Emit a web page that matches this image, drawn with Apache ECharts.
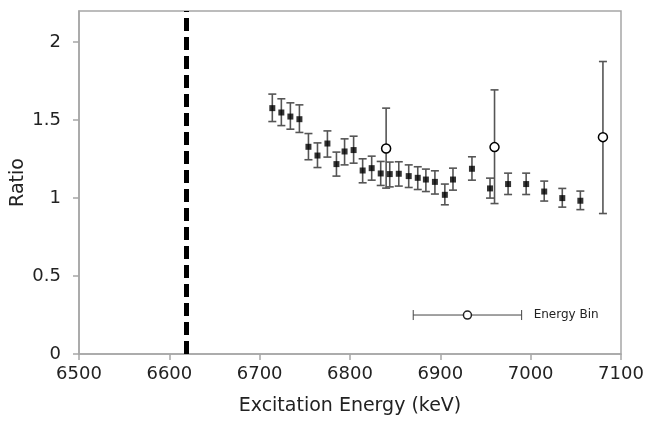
<!DOCTYPE html>
<html>
<head>
<meta charset="utf-8">
<script src="https://cdn.jsdelivr.net/npm/echarts@6/dist/echarts.min.js"></script>
<style>
html,body{margin:0;padding:0;background:#fff;}
#chart{width:649px;height:425px;}
</style>
</head>
<body>
<div id="chart"></div>
<script>
// Filled points (ratio with error bars)
const energy = [6714,6724,6734,6744,6754,6764,6775,6785,6794,6804,6814,6824,6834,6844,6854,6865,6875,6884,6894,6905,6914,6935,6955,6975,6995,7015,7035,7055];
const ratio = [1.577,1.549,1.523,1.506,1.329,1.273,1.350,1.218,1.299,1.308,1.177,1.192,1.158,1.154,1.156,1.141,1.130,1.119,1.104,1.021,1.119,1.188,1.062,1.090,1.090,1.042,1.000,0.983];
const ratioHigh = [1.667,1.637,1.611,1.598,1.414,1.354,1.431,1.295,1.380,1.397,1.252,1.269,1.235,1.231,1.233,1.213,1.201,1.186,1.175,1.090,1.192,1.265,1.128,1.160,1.160,1.109,1.062,1.045];
const ratioLow = [1.491,1.465,1.442,1.421,1.246,1.196,1.263,1.141,1.213,1.224,1.098,1.115,1.081,1.072,1.077,1.068,1.055,1.042,1.026,0.957,1.051,1.115,1.000,1.023,1.023,0.981,0.942,0.926];
// Open circles
const openEnergy = [6840,6960,7080];
const openRatio = [1.318,1.327,1.391];
const openHigh = [1.577,1.694,1.876];
const openLow = [1.064,0.965,0.901];
// Threshold line
const thresholdEnergy = [6618.5];
// Energy bin legend marker
const binCenter = [6930];
const binLow = [6870];
const binHigh = [6990];
const binY = [0.25];
const binLabel = ['Energy Bin'];
// Axis ticks
const yTicks = [0,0.5,1,1.5,2];
const xMin = 6500, xMax = 7100, xStep = 100;
const yMin = 0, yMax = 2.2;

const chart = echarts.init(document.getElementById('chart'));
const FONT = 'DejaVu Sans';

function errorBarRender(color, width, cap) {
  return function (params, api) {
    const x = api.value(0);
    const lo = api.coord([x, api.value(1)]);
    const hi = api.coord([x, api.value(2)]);
    const st = {stroke: color, lineWidth: width};
    return {
      type: 'group',
      children: [
        {type: 'line', shape: {x1: lo[0], y1: lo[1], x2: hi[0], y2: hi[1]}, style: st},
        {type: 'line', shape: {x1: lo[0]-cap, y1: lo[1], x2: lo[0]+cap, y2: lo[1]}, style: st},
        {type: 'line', shape: {x1: hi[0]-cap, y1: hi[1], x2: hi[0]+cap, y2: hi[1]}, style: st}
      ]
    };
  };
}

const option = {
  animation: false,
  backgroundColor: '#fff',
  grid: {left: 79, right: 28, top: 11, bottom: 71, show: true, borderColor: '#a6a6a6', borderWidth: 1.5, containLabel: false, outerBoundsMode: 'none'},
  xAxis: {
    type: 'value', min: xMin, max: xMax, interval: xStep,
    name: 'Excitation Energy (keV)', nameLocation: 'middle', nameGap: 43,
    nameTextStyle: {fontFamily: FONT, fontSize: 19, color: '#222'},
    axisLine: {show: true, lineStyle: {color: '#a6a6a6', width: 1.5}},
    axisTick: {show: true, length: 6, lineStyle: {color: '#a6a6a6', width: 1.5}},
    axisLabel: {fontFamily: FONT, fontSize: 18, color: '#222', margin: 11, formatter: v => String(v)},
    splitLine: {show: false}
  },
  yAxis: {
    type: 'value', min: yMin, max: yMax,
    name: 'Ratio', nameLocation: 'middle', nameGap: 51, nameMoveOverlap: false,
    nameTextStyle: {fontFamily: FONT, fontSize: 19, color: '#222'},
    axisLine: {show: true, lineStyle: {color: '#a6a6a6', width: 1.5}},
    axisTick: {show: true, length: 6, customValues: yTicks, lineStyle: {color: '#a6a6a6', width: 1.5}},
    axisLabel: {fontFamily: FONT, fontSize: 18, color: '#222', margin: 18, customValues: yTicks},
    splitLine: {show: false}
  },
  series: [
    {
      type: 'line', data: [], silent: true,
      markLine: {
        silent: true, symbol: 'none', label: {show: false},
        lineStyle: {color: '#000', width: 5, type: [13, 6]},
        data: thresholdEnergy.map(v => ({xAxis: v}))
      }
    },
    {
      type: 'custom', silent: true,
      renderItem: errorBarRender('#555', 1.6, 4),
      data: energy.map((e, i) => [e, ratioLow[i], ratioHigh[i]]),
      z: 2
    },
    {
      type: 'custom', silent: true,
      renderItem: errorBarRender('#555', 1.6, 4),
      data: openEnergy.map((e, i) => [e, openLow[i], openHigh[i]]),
      z: 2
    },
    {
      type: 'scatter', symbol: 'rect', symbolSize: 6,
      itemStyle: {color: '#000'},
      data: energy.map((e, i) => [e, ratio[i]]),
      z: 3
    },
    {
      type: 'scatter', symbol: 'circle', symbolSize: 9,
      itemStyle: {color: '#fff', borderColor: '#000', borderWidth: 1.5, opacity: 1},
      data: openEnergy.map((e, i) => [e, openRatio[i]]),
      z: 4
    },
    {
      type: 'custom', silent: true,
      renderItem: function (params, api) {
        const y = api.value(3);
        const l = api.coord([api.value(1), y]);
        const r = api.coord([api.value(2), y]);
        const st = {stroke: '#444', lineWidth: 1};
        return {
          type: 'group',
          children: [
            {type: 'line', shape: {x1: l[0], y1: l[1], x2: r[0], y2: r[1]}, style: st},
            {type: 'line', shape: {x1: l[0], y1: l[1]-5, x2: l[0], y2: l[1]+5}, style: st},
            {type: 'line', shape: {x1: r[0], y1: r[1]-5, x2: r[0], y2: r[1]+5}, style: st},
            {type: 'text', style: {text: binLabel[params.dataIndex], x: r[0] + 12, y: r[1], verticalAlign: 'middle', align: 'left', fontFamily: FONT, fontSize: 12, fill: '#222'}}
          ]
        };
      },
      data: binCenter.map((c, i) => [c, binLow[i], binHigh[i], binY[i]]),
      z: 2
    },
    {
      type: 'scatter', symbol: 'circle', symbolSize: 8,
      itemStyle: {color: '#fff', borderColor: '#222', borderWidth: 1.5, opacity: 1},
      data: binCenter.map((c, i) => [c, binY[i]]),
      z: 4
    }
  ]
};
chart.setOption(option);
</script>
</body>
</html>
